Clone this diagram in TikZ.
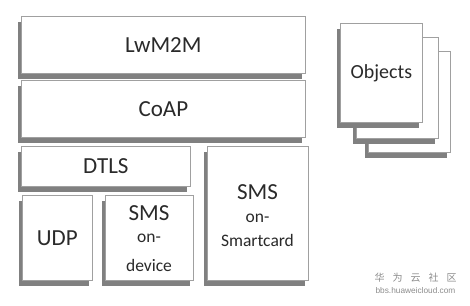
\documentclass[tikz,border=0pt]{standalone}
\usepackage{fontspec}
\setmainfont{Carlito}
\newfontfamily\cjk{Noto Sans CJK SC}
\newfontfamily\wmsans{Liberation Sans}
\usetikzlibrary{shadows}
\definecolor{boxc}{HTML}{A0A0A0}
\definecolor{shadowc}{HTML}{808080}
\definecolor{txtc}{HTML}{2A2A2A}
\definecolor{wmc}{HTML}{8C8C8C}
\begin{document}
\begin{tikzpicture}[x=1pt,y=-1pt,
  layer/.style={draw=boxc, fill=white, line width=0.7pt, inner sep=0pt, anchor=north west,
    text=txtc, font=\fontsize{23}{26}\selectfont,
    general shadow={fill=shadowc, shadow xshift=-3.5pt, shadow yshift=-6pt}},
  bigtxt/.style={text=txtc, inner sep=0pt, font=\fontsize{23}{26}\selectfont},
  smalltxt/.style={text=txtc, inner sep=0pt, font=\fontsize{17.5}{20}\selectfont},
  wm/.style={text=wmc, inner sep=0pt}]
\useasboundingbox (0,0) rectangle (470,305);
% main stack
\node[layer, minimum width=284pt, minimum height=57pt] (lwm) at (21,16) {LwM2M};
\node[layer, minimum width=284pt, minimum height=57pt] (coap) at (21,80) {CoAP};
\node[layer, minimum width=169pt, minimum height=40pt] (dtls) at (21,146) {DTLS};
\node[layer, minimum width=70pt, minimum height=85pt] (udp) at (22,195) {UDP};
\node[layer, minimum width=88pt, minimum height=85pt] (smsd) at (105,195) {};
\node[layer, minimum width=101pt, minimum height=134pt] (smsc) at (207,146) {};
% texts in SMS boxes
\node[bigtxt] (smsdA) at (149,213) {SMS};
\node[smalltxt] (smsdB) at (149,238) {on-};
\node[smalltxt] (smsdC) at (149,265) {device};
\node[bigtxt] (smscA) at (257.5,192) {SMS};
\node[smalltxt] (smscB) at (257.5,218) {on-};
\node[smalltxt] (smscC) at (257.5,240) {Smartcard};
% objects stack
\node[layer, minimum width=82pt, minimum height=101pt] (obj3) at (368,51) {};
\node[layer, minimum width=82pt, minimum height=101pt] (obj2) at (356,37) {};
\node[layer, minimum width=82pt, minimum height=99pt, font=\fontsize{20}{24}\selectfont] (obj1) at (340,23) {Objects};
% watermark
\node[wm, font=\cjk\fontsize{10}{12}\selectfont] (wm1) at (415.5,278) {华\hspace{8pt}为\hspace{8pt}云\hspace{8pt}社\hspace{8pt}区};
\node[wm, font=\wmsans\fontsize{8.3}{10}\selectfont] (wm2) at (415.5,290.5) {bbs.huaweicloud.com};
\end{tikzpicture}
\end{document}
